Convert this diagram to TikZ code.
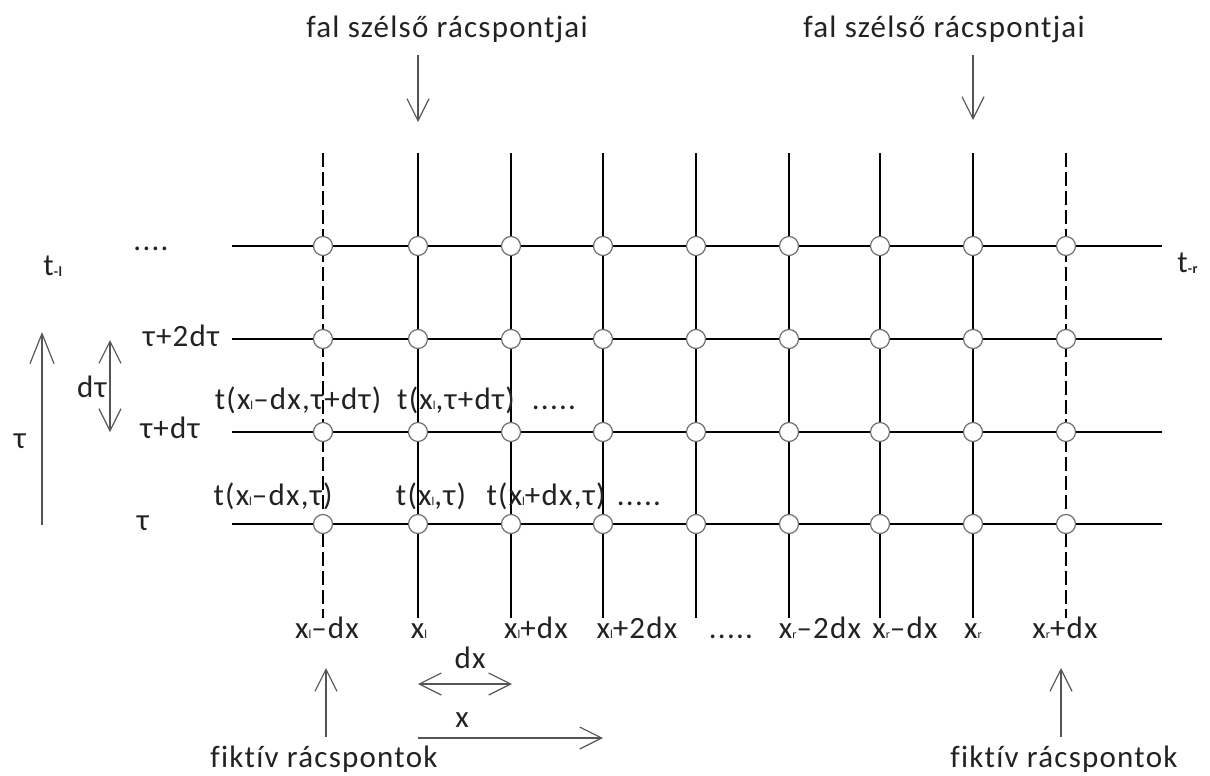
\documentclass[tikz,border=0pt]{standalone}
\usepackage{fontspec}
\setmainfont{Carlito}[Ligatures={NoCommon,NoRequired,NoContextual},LetterSpace=4]
\usetikzlibrary{arrows.meta}
\definecolor{arrcol}{HTML}{555555}
\definecolor{circcol}{HTML}{707070}
\definecolor{txtcol}{HTML}{222222}
\newcommand\lsub[1]{{\fontsize{6pt}{6pt}\selectfont #1}}
\newcommand\tsub[1]{\raisebox{-0.5pt}{\fontsize{7pt}{7pt}\selectfont\bfseries #1}}
\begin{document}
\begin{tikzpicture}[x=0.5pt,y=-0.5pt,
  lbl/.style={font=\fontsize{15.5pt}{18pt}\selectfont, text=txtcol, inner sep=0pt, anchor=base},
  gridline/.style={line width=1pt, black},
  ghostline/.style={line width=1pt, black, dash pattern=on 7pt off 2.5pt},
  gpt/.style={circle, draw=circcol, fill=white, line width=0.6pt, minimum size=9.5pt, inner sep=0pt},
  arr/.style={draw=arrcol, line width=0.6pt, -{Straight Barb[length=11pt,width=11pt]}},
  darr/.style={draw=arrcol, line width=0.6pt, {Straight Barb[length=11pt,width=11pt]}-{Straight Barb[length=11pt,width=11pt]}},
  bigarr/.style={draw=arrcol, line width=0.6pt, -{Straight Barb[length=15pt,width=12pt]}}
]
\useasboundingbox (0,0) rectangle (1210,776);

% horizontal lines
\foreach \r [count=\j] in {246,339,432,524} {
  \coordinate (hl-\j) at (232,\r);
  \coordinate (hr-\j) at (1162,\r);
  \draw[gridline] (hl-\j) -- (hr-\j);
}
% vertical lines
\foreach \c [count=\i] in {323,418,511,603,696,789,880,973,1066} {
  \coordinate (vt-\i) at (\c,153);
  \coordinate (vb-\i) at (\c,618);
}
\foreach \i in {2,...,8} { \draw[gridline] (vt-\i) -- (vb-\i); }
\draw[ghostline] (vt-1) -- (vb-1);
\draw[ghostline] (vt-9) -- (vb-9);
% grid points
\foreach \c [count=\i] in {323,418,511,603,696,789,880,973,1066} {
  \foreach \r [count=\j] in {246,339,432,524} {
    \node[gpt] (p-\i-\j) at (\c,\r) {};
  }
}

% top labels
\node[lbl] (fal1) at (447,37) {fal szélső rácspontjai};
\node[lbl] (fal2) at (944,37) {fal szélső rácspontjai};
\coordinate (fa1s) at (418,55); \coordinate (fa1e) at (418,122);
\coordinate (fa2s) at (973,55); \coordinate (fa2e) at (973,120);
\draw[arr] (fa1s) -- (fa1e);
\draw[arr] (fa2s) -- (fa2e);

% left labels
\node[lbl] (dots0) at (151,250) {....};
\node[lbl, anchor=base west] (tl) at (43,275) {t\tsub{-l}};
\node[lbl, anchor=base west] (tr) at (1177,272) {t\tsub{-r}};
\node[lbl] (r3) at (181,346) {τ+2dτ};
\node[lbl] (r2) at (170,438) {τ+dτ};
\node[lbl] (r1) at (143,530) {τ};
\node[lbl] (dtau) at (92,397) {dτ};
\node[lbl] (bigtau) at (20,448) {τ};
\coordinate (ta-s) at (42,525); \coordinate (ta-e) at (42,332);
\draw[bigarr] (ta-s) -- (ta-e);
\coordinate (dt-s) at (110,340); \coordinate (dt-e) at (110,432);
\draw[darr] (dt-s) -- (dt-e);

% value labels
\node[lbl] (v1) at (298,409) {t(x\lsub{l}–dx,τ+dτ)};
\node[lbl] (v2) at (456,409) {t(x\lsub{l},τ+dτ)};
\node[lbl] (v3) at (554,409) {.....};
\node[lbl] (v4) at (273,505) {t(x\lsub{l}–dx,τ)};
\node[lbl] (v5) at (431,505) {t(x\lsub{l},τ)};
\node[lbl] (v6) at (546,505) {t(x\lsub{l}+dx,τ)};
\node[lbl] (v7) at (639,505) {.....};

% bottom labels
\node[lbl] (b1) at (327,638) {x\lsub{l}–dx};
\node[lbl] (b2) at (419,638) {x\lsub{l}};
\node[lbl] (b3) at (536,638) {x\lsub{l}+dx};
\node[lbl] (b4) at (637,638) {x\lsub{l}+2dx};
\node[lbl] (b5) at (731,638) {.....};
\node[lbl] (b6) at (820,638) {x\lsub{r}–2dx};
\node[lbl] (b7) at (905,638) {x\lsub{r}–dx};
\node[lbl] (b8) at (973,638) {x\lsub{r}};
\node[lbl] (b9) at (1065,638) {x\lsub{r}+dx};

% dx and x
\node[lbl] (dxl) at (470,668) {dx};
\coordinate (dx-s) at (418,684); \coordinate (dx-e) at (512,684);
\draw[darr] (dx-s) -- (dx-e);
\node[lbl] (xl) at (462,727) {x};
\coordinate (x-s) at (418,738); \coordinate (x-e) at (603,738);
\draw[arr] (x-s) -- (x-e);

% fictive points
\node[lbl] (fik1) at (324,767) {fiktív rácspontok};
\node[lbl] (fik2) at (1064,767) {fiktív rácspontok};
\coordinate (fk1s) at (326,737); \coordinate (fk1e) at (326,668);
\coordinate (fk2s) at (1061,737); \coordinate (fk2e) at (1061,668);
\draw[arr] (fk1s) -- (fk1e);
\draw[arr] (fk2s) -- (fk2e);
\end{tikzpicture}
\end{document}
